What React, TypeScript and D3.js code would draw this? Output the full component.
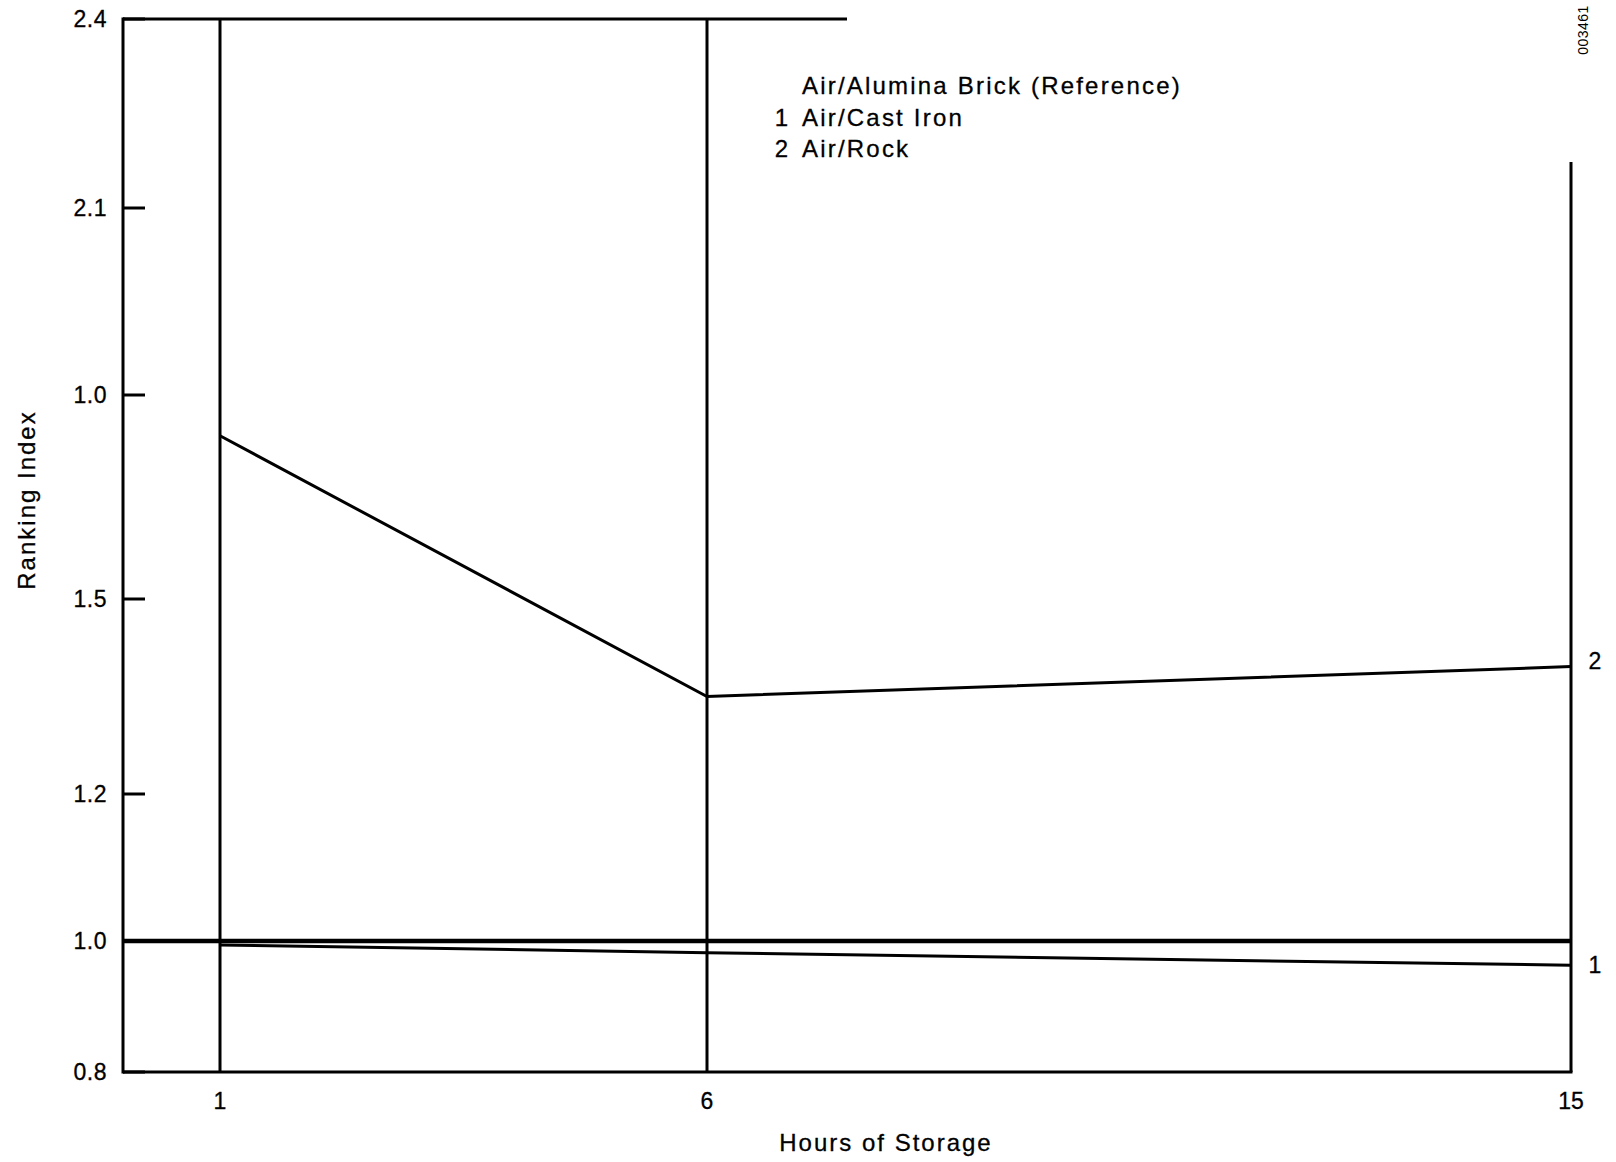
import React from "react";
import * as d3 from "d3";

const hours = [1, 6, 15];
const castIron = [0.994, 0.982, 0.963];
const rock = [1.74, 1.35, 1.396];
const referenceHours = [0, 15];
const referenceValue = [1.0, 1.0];
const yTickValues = [0.8, 1.0, 1.2, 1.5, 1.8, 2.1, 2.4];
const yTickLabels = ["0.8", "1.0", "1.2", "1.5", "1.0", "2.1", "2.4"];
const xTickValues = [1, 6, 15];
const xTickLabels = ["1", "6", "15"];
const legendNumbers = ["", "1", "2"];
const legendLabels = ["Air/Alumina Brick (Reference)", "Air/Cast Iron", "Air/Rock"];
const seriesEndLabels = ["1", "2"];

const W = 1616;
const H = 1162;
const FONT = "'Liberation Sans', Arial, Helvetica, sans-serif";

export default function App() {
  const x = d3.scaleLinear().domain([0, 1, 6, 15]).range([123, 220, 707, 1571]);
  const y = d3.scaleLinear().domain(yTickValues).range([1072, 941, 794, 599, 395, 208, 19]);

  const line = d3
    .line<[number, number]>()
    .x((d) => x(d[0]))
    .y((d) => y(d[1]));

  const refPts = referenceHours.map((h, i) => [h, referenceValue[i]] as [number, number]);
  const ironPts = hours.map((h, i) => [h, castIron[i]] as [number, number]);
  const rockPts = hours.map((h, i) => [h, rock[i]] as [number, number]);

  const yTop = y(2.4);
  const yBot = y(0.8);
  const xLeft = x(0);
  const xRight = x(15);

  return (
    <svg
      width={W}
      height={H}
      viewBox={`0 0 ${W} ${H}`}
      style={{ position: "absolute", left: 0, top: 0, background: "#fff" }}
      fontFamily={FONT}
    >
      <rect x={0} y={0} width={W} height={H} fill="#fff" />
      {/* frame */}
      <line x1={xLeft} x2={xLeft} y1={yTop - 1.5} y2={yBot + 1.5} stroke="#000" strokeWidth={3} />
      <line x1={xLeft} x2={xRight + 1.5} y1={yBot} y2={yBot} stroke="#000" strokeWidth={3} />
      <line x1={xLeft} x2={847} y1={yTop} y2={yTop} stroke="#000" strokeWidth={3} />
      <line x1={xRight} x2={xRight} y1={162} y2={yBot} stroke="#000" strokeWidth={3} />
      {/* vertical lines at hours */}
      {xTickValues.slice(0, 2).map((v) => (
        <line key={v} x1={x(v)} x2={x(v)} y1={yTop} y2={yBot} stroke="#000" strokeWidth={3} />
      ))}
      {/* y ticks */}
      {yTickValues.map((v, i) => (
        <g key={i}>
          <line x1={xLeft} x2={xLeft + 22} y1={y(v)} y2={y(v)} stroke="#000" strokeWidth={3} />
          <text
            x={107}
            y={y(v) + 8}
            textAnchor="end"
            fontSize={23}
            letterSpacing={0.5}
            fill="#000"
            stroke="#000"
            strokeWidth={0.3}
          >
            {yTickLabels[i]}
          </text>
        </g>
      ))}
      {/* x ticks */}
      {xTickValues.map((v, i) => (
        <text key={v} x={x(v)} y={1109} textAnchor="middle" fontSize={23} fill="#000" stroke="#000" strokeWidth={0.3}>
          {xTickLabels[i]}
        </text>
      ))}
      {/* series */}
      <path d={line(refPts) || ""} fill="none" stroke="#000" strokeWidth={4.5} />
      <path d={line(ironPts) || ""} fill="none" stroke="#000" strokeWidth={3} />
      <path d={line(rockPts) || ""} fill="none" stroke="#000" strokeWidth={3} />
      {/* end labels */}
      <text x={xRight + 24} y={y(castIron[2]) + 8} textAnchor="middle" fontSize={23} fill="#000" stroke="#000" strokeWidth={0.3}>
        {seriesEndLabels[0]}
      </text>
      <text x={xRight + 24} y={y(rock[2]) + 2} textAnchor="middle" fontSize={23} fill="#000" stroke="#000" strokeWidth={0.3}>
        {seriesEndLabels[1]}
      </text>
      {/* legend */}
      {legendLabels.map((lab, i) => (
        <g key={i}>
          {legendNumbers[i] && (
            <text x={788} y={94 + i * 31.5} textAnchor="end" fontSize={24} fill="#000" stroke="#000" strokeWidth={0.3}>
              {legendNumbers[i]}
            </text>
          )}
          <text x={802} y={94 + i * 31.5} fontSize={24} letterSpacing={2.2} fill="#000" stroke="#000" strokeWidth={0.3}>
            {lab}
          </text>
        </g>
      ))}
      {/* axis titles */}
      <text x={886} y={1151} textAnchor="middle" fontSize={24} letterSpacing={2} fill="#000" stroke="#000" strokeWidth={0.3}>
        Hours of Storage
      </text>
      <text
        transform="translate(35,500) rotate(-90)"
        textAnchor="middle"
        fontSize={24}
        letterSpacing={2}
        fill="#000"
        stroke="#000"
        strokeWidth={0.3}
      >
        Ranking Index
      </text>
      <text
        transform="translate(1588,30) rotate(-90)"
        textAnchor="middle"
        fontSize={14}
        letterSpacing={0.5}
        fill="#000"
      >
        003461
      </text>
    </svg>
  );
}
